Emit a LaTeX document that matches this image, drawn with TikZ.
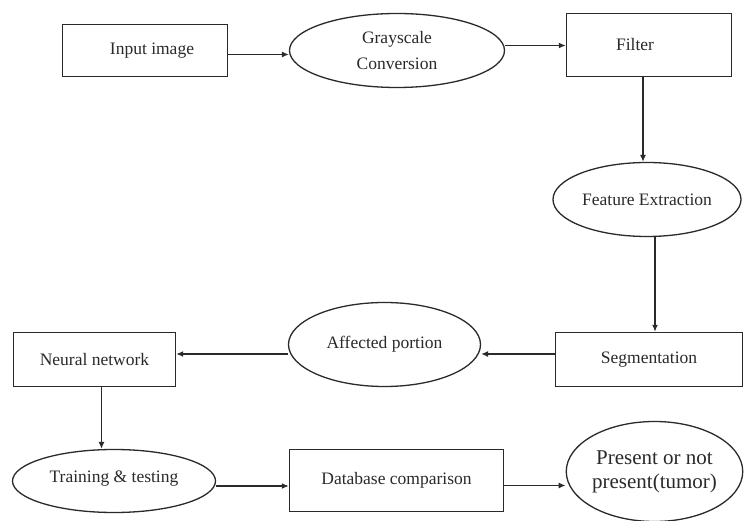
\documentclass[tikz,border=0pt]{standalone}
\usepackage{fontspec}
\setmainfont{Liberation Serif}
\usetikzlibrary{shapes.geometric,arrows.meta}
\definecolor{ink}{HTML}{2A2A2A}
\begin{document}
\begin{tikzpicture}[x=1pt,y=-1pt,
  box/.style={draw=ink,line width=1.4pt,rectangle,inner sep=0pt,text=ink,font=\fontsize{17.5}{26}\selectfont,align=center},
  oval/.style={draw=ink,line width=1.3pt,ellipse,inner sep=0pt,text=ink,font=\fontsize{17.5}{26}\selectfont,align=center},
  arr/.style={draw=ink,line width=1.3pt,-{Latex[length=7pt,width=6pt]}}]
\useasboundingbox[fill=white] (0,0) rectangle (745,521);
\node[box,minimum width=165pt,minimum height=52pt] (inp) at (145,50.5) {\hspace*{14pt}Input image};
\node[oval,minimum width=215pt,minimum height=74pt] (gray) at (397,50.5) {Grayscale\\Conversion};
\node[box,minimum width=165pt,minimum height=63pt] (filt) at (649,45) {Filter\hspace*{28pt}};
\node[oval,minimum width=188pt,minimum height=74pt] (feat) at (647,199.5) {Feature Extraction};
\node[box,minimum width=187pt,minimum height=54pt] (seg) at (649,359.5) {Segmentation};
\node[oval,minimum width=192pt,minimum height=84pt] (aff) at (384.5,344.5) {Affected portion};
\node[box,minimum width=162pt,minimum height=54pt] (nn) at (94.5,359.5) {Neural network};
\node[oval,minimum width=203pt,minimum height=63pt] (train) at (114,481) {\raisebox{8pt}{Training \& testing}};
\node[box,minimum width=214pt,minimum height=62pt] (db) at (396.5,480.5) {Database comparison};
\node[oval,minimum width=160pt,minimum height=100pt,font=\fontsize{21}{24}\selectfont] (pres) at (654.5,471.5) {\raisebox{-5pt}{\begin{tabular}{@{}c@{}}Present or not\\present(tumor)\end{tabular}}};

\draw[arr] ([yshift=-4pt]inp.east) -- ([yshift=-4pt]inp.east -| gray.west);
\draw[arr] ([yshift=5pt]gray.east) -- ([yshift=5pt]gray.east -| filt.west);
\draw[arr] ([xshift=-6pt]filt.south) -- ([xshift=-6pt]filt.south |- feat.north);
\draw[arr] ([xshift=8pt]feat.south) -- ([xshift=8pt]feat.south |- seg.north);
\draw[arr] ([yshift=5.5pt]seg.west) -- ([yshift=5.5pt]seg.west -| aff.east);
\draw[arr] ([yshift=-9.5pt]aff.west) -- ([yshift=-9.5pt]aff.west -| nn.east);
\draw[arr] ([xshift=7pt]nn.south) -- ([xshift=7pt]nn.south |- train.north);
\draw[arr] ([yshift=-5pt]train.east) -- ([yshift=-5pt]train.east -| db.west);
\draw[arr] ([yshift=-5pt]db.east) -- ([yshift=-14pt]pres.west);
\end{tikzpicture}
\end{document}
